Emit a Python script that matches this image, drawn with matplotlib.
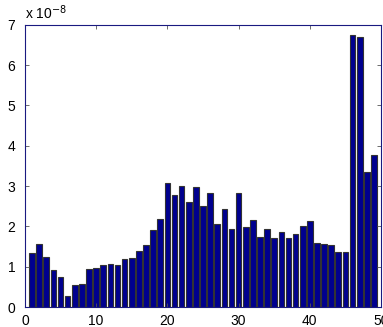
import matplotlib

matplotlib.use("Agg")
import matplotlib.pyplot as plt
import numpy as np

# Bar heights in units of 1e-8, one per bin 1..49.
bins = np.arange(1, 50)
heights = [
    1.35, 1.56, 1.24, 0.92, 0.75, 0.27, 0.54, 0.58, 0.94, 0.97,
    1.05, 1.08, 1.05, 1.18, 1.21, 1.40, 1.54, 1.91, 2.19, 3.08,
    2.79, 3.00, 2.60, 2.98, 2.51, 2.83, 2.06, 2.43, 1.93, 2.84,
    1.99, 2.16, 1.75, 1.94, 1.71, 1.87, 1.71, 1.82, 2.01, 2.13,
    1.58, 1.56, 1.54, 1.37, 1.36, 6.75, 6.69, 3.34, 3.78,
]
xticks = [0, 10, 20, 30, 40, 50]
yticks = [0, 1, 2, 3, 4, 5, 6, 7]

BAR = "#00008f"
AXIS = "#1a1a80"

plt.rcParams.update({"font.family": ["Liberation Sans", "DejaVu Sans"], "font.size": 10})
fig = plt.figure(figsize=(3.83, 3.27), dpi=100)
ax = fig.add_axes([0.065, 0.061, 0.93, 0.863])

ax.bar(bins, np.array(heights) * 1e-8, width=0.8, color=BAR, edgecolor="#333333", linewidth=0.8)

ax.set_xlim(0, 50)
ax.set_ylim(0, 7e-8)
ax.set_xticks(xticks)
ax.set_xticklabels([str(t) for t in xticks])
ax.set_yticks([t * 1e-8 for t in yticks])
ax.set_yticklabels([str(t) for t in yticks])
ax.tick_params(direction="in", top=True, right=True, length=3, width=0.6, color="#555555")
ax.tick_params(axis="x", pad=5)
ax.tick_params(axis="y", pad=7)
for s in ax.spines.values():
    s.set_color(AXIS)
    s.set_linewidth(0.8)

ax.text(0.0, 1.01, r"x 10$^{-8}$", transform=ax.transAxes, ha="left", va="bottom", fontsize=10)

fig.savefig("out.png", dpi=100)
